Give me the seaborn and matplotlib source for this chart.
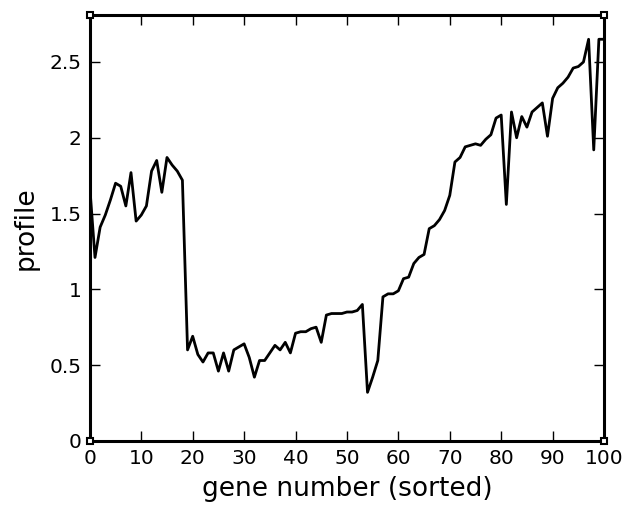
import matplotlib
matplotlib.use("Agg")
import matplotlib.pyplot as plt
import seaborn as sns
import pandas as pd

gene_number = list(range(0, 101))
profile = [
    1.67, 1.21, 1.41, 1.49, 1.59, 1.70, 1.68, 1.55, 1.77, 1.45,
    1.49, 1.55, 1.78, 1.85, 1.64, 1.87, 1.82, 1.78, 1.72, 0.60,
    0.69, 0.57, 0.52, 0.58, 0.58, 0.46, 0.58, 0.46, 0.60, 0.62,
    0.64, 0.55, 0.42, 0.53, 0.53, 0.58, 0.63, 0.60, 0.65, 0.58,
    0.71, 0.72, 0.72, 0.74, 0.75, 0.65, 0.83, 0.84, 0.84, 0.84,
    0.85, 0.85, 0.86, 0.90, 0.32, 0.42, 0.53, 0.95, 0.97, 0.97,
    0.99, 1.07, 1.08, 1.17, 1.21, 1.23, 1.40, 1.42, 1.46, 1.52,
    1.62, 1.84, 1.87, 1.94, 1.95, 1.96, 1.95, 1.99, 2.02, 2.13,
    2.15, 1.56, 2.17, 2.00, 2.14, 2.07, 2.17, 2.20, 2.23, 2.01,
    2.26, 2.33, 2.36, 2.40, 2.46, 2.47, 2.50, 2.65, 1.92, 2.65,
    2.65,
]
x_ticks = [0, 10, 20, 30, 40, 50, 60, 70, 80, 90, 100]
y_ticks = [0, 0.5, 1, 1.5, 2, 2.5]
y_tick_labels = ["0", "0.5", "1", "1.5", "2", "2.5"]

df = pd.DataFrame({"gene": gene_number, "profile": profile})

sns.set_style("ticks")
plt.rcParams["font.family"] = ["DejaVu Sans"]

fig = plt.figure(figsize=(6.24, 5.18), dpi=100)
ax = fig.add_axes([0.144, 0.149, 0.824, 0.822])

sns.lineplot(data=df, x="gene", y="profile", ax=ax, color="black", linewidth=2.0)

ax.set_xlim(0, 100)
ax.set_ylim(0, 2.81)
ax.set_xticks(x_ticks)
ax.set_xticklabels([str(t) for t in x_ticks])
ax.set_yticks(y_ticks)
ax.set_yticklabels(y_tick_labels)

for s in ax.spines.values():
    s.set_linewidth(2.2)
    s.set_color("black")

ax.tick_params(axis="both", direction="in", length=7, width=1.0,
               top=True, right=True, labelsize=14.5, colors="black",
               labelcolor="black", pad=6)

ax.set_xlabel("gene number (sorted)", fontsize=19, labelpad=6, color="black")
ax.set_ylabel("profile", fontsize=19, labelpad=8, color="black")

# small square markers at the frame corners
ax.plot([0, 1, 0, 1], [0, 0, 1, 1], linestyle="none", marker="s",
        markersize=5, markerfacecolor="white", markeredgecolor="black",
        markeredgewidth=1.5, transform=ax.transAxes, clip_on=False, zorder=5)

fig.savefig("out.png", dpi=100)
